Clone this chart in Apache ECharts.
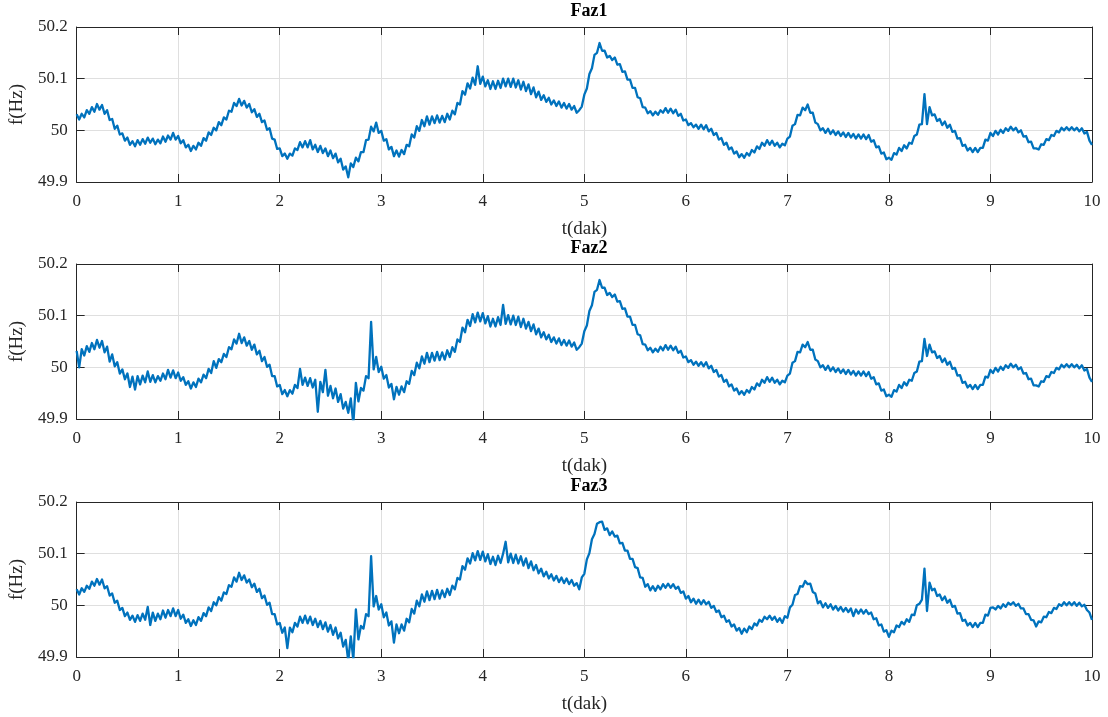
<!DOCTYPE html>
<html>
<head>
<meta charset="utf-8">
<title>Faz frekanslari</title>
<script src="https://cdn.jsdelivr.net/npm/echarts@6/dist/echarts.min.js"></script>
<style>
  html, body { margin: 0; padding: 0; background: #ffffff; }
  #chart { width: 1108px; height: 717px; }
</style>
</head>
<body>
<div id="chart"></div>
<script>
// Measured grid frequency of the three phases, one sample every 0.025 min over 10 min.
const sampleStepMin = 0.025;

const panelTitles = ['Faz1', 'Faz2', 'Faz3'];
const xAxisName = 't(dak)';
const yAxisName = 'f(Hz)';
const xTicks = [0, 1, 2, 3, 4, 5, 6, 7, 8, 9, 10];
const yTicks = [49.9, 50, 50.1, 50.2];

const faz1 = [
  50.031,50.021,50.032,50.025,50.039,50.032,50.045,50.036,50.051,50.04,50.049,50.032,50.039,50.02,50.022,50.003,50.009,49.992,49.994,49.98,
  49.986,49.972,49.979,49.969,49.981,49.972,49.983,49.974,49.986,49.976,49.984,49.973,49.982,49.975,49.988,49.978,49.99,49.982,49.995,49.982,
  49.989,49.975,49.981,49.967,49.972,49.96,49.97,49.963,49.976,49.97,49.985,49.98,49.996,49.991,50.005,50,50.016,50.01,50.025,50.021,
  50.038,50.036,50.053,50.047,50.061,50.048,50.057,50.044,50.051,50.035,50.041,50.026,50.032,50.016,50.019,50.001,50.004,49.984,49.982,49.964,
  49.965,49.95,49.955,49.945,49.955,49.951,49.965,49.962,49.977,49.967,49.979,49.967,49.981,49.963,49.972,49.958,49.97,49.956,49.965,49.95,
  49.961,49.946,49.955,49.938,49.945,49.924,49.93,49.909,49.936,49.929,49.947,49.94,49.958,49.958,49.981,49.982,50.007,49.998,50.015,49.995,
  49.999,49.98,49.983,49.963,49.968,49.95,49.961,49.949,49.962,49.954,49.972,49.969,49.992,49.986,50.008,49.999,50.02,50.008,50.027,50.011,
  50.027,50.014,50.029,50.015,50.028,50.016,50.032,50.021,50.038,50.031,50.053,50.05,50.076,50.069,50.091,50.081,50.102,50.088,50.124,50.09,
  50.104,50.085,50.097,50.08,50.095,50.08,50.096,50.082,50.1,50.085,50.1,50.084,50.1,50.083,50.097,50.079,50.094,50.076,50.089,50.07,
  50.083,50.064,50.075,50.059,50.068,50.055,50.063,50.05,50.058,50.047,50.056,50.044,50.053,50.042,50.051,50.04,50.047,50.034,50.039,50.046,
  50.069,50.081,50.109,50.12,50.146,50.15,50.169,50.154,50.154,50.141,50.144,50.136,50.141,50.127,50.128,50.113,50.114,50.098,50.098,50.082,
  50.082,50.064,50.062,50.045,50.044,50.033,50.037,50.029,50.036,50.03,50.039,50.034,50.043,50.034,50.042,50.033,50.04,50.028,50.032,50.019,
  50.021,50.01,50.014,50.006,50.011,50.003,50.011,50.002,50.01,49.998,50.003,49.991,49.995,49.982,49.985,49.972,49.976,49.963,49.967,49.955,
  49.959,49.948,49.954,49.947,49.956,49.951,49.962,49.957,49.969,49.964,49.976,49.97,49.981,49.972,49.98,49.97,49.976,49.967,49.974,49.971,
  49.984,49.988,50.009,50.012,50.03,50.029,50.044,50.039,50.05,50.034,50.034,50.015,50.012,50,50.004,49.995,50.003,49.993,50,49.991,
  49.998,49.989,49.996,49.987,49.995,49.986,49.993,49.984,49.992,49.984,49.992,49.983,49.991,49.978,49.981,49.967,49.969,49.955,49.957,49.944,
  49.947,49.943,49.956,49.953,49.966,49.96,49.971,49.965,49.976,49.974,49.989,49.992,50.011,50.012,50.07,50.012,50.045,50.029,50.031,50.018,
  50.022,50.01,50.017,50.005,50.011,49.997,49.999,49.984,49.985,49.97,49.972,49.961,49.966,49.958,49.966,49.958,49.966,49.966,49.982,49.98,
  49.995,49.989,49.999,49.992,50.001,49.995,50.004,49.999,50.007,50,50.005,49.996,50,49.988,49.989,49.977,49.978,49.965,49.965,49.963,
  49.973,49.972,49.983,49.981,49.991,49.989,49.999,49.996,50.005,50,50.006,50,50.006,50,50.005,49.998,50.004,49.994,49.997,49.98,
  49.972
];

const faz2 = [
  50.032,50,50.035,50.023,50.041,50.03,50.047,50.035,50.053,50.038,50.051,50.029,50.04,50.011,50.025,50.002,50.01,49.988,49.996,49.977,
  49.988,49.962,49.982,49.957,49.983,49.967,49.984,49.971,49.992,49.972,49.985,49.971,49.983,49.974,49.988,49.977,49.995,49.98,49.994,49.979,
  49.99,49.974,49.981,49.966,49.973,49.959,49.971,49.962,49.978,49.971,49.986,49.979,49.997,49.989,50.012,49.999,50.016,50.01,50.026,50.02,
  50.039,50.035,50.054,50.046,50.065,50.047,50.058,50.042,50.051,50.034,50.044,50.025,50.032,50.012,50.02,50.001,50.005,49.983,49.983,49.963,
  49.966,49.948,49.956,49.944,49.956,49.949,49.966,49.96,49.997,49.966,49.98,49.964,49.979,49.961,49.976,49.914,49.972,49.952,49.995,49.945,
  49.964,49.94,49.959,49.933,49.948,49.92,49.933,49.912,49.94,49.89,49.97,49.934,49.96,49.955,49.983,49.979,50.088,49.996,50.02,49.991,
  50.001,49.978,49.985,49.961,49.968,49.938,49.962,49.947,49.963,49.952,49.973,49.968,49.993,49.985,50.009,49.998,50.021,50.007,50.028,50.01,
  50.028,50.013,50.03,50.014,50.029,50.015,50.033,50.02,50.039,50.03,50.054,50.049,50.077,50.068,50.092,50.08,50.103,50.087,50.106,50.089,
  50.105,50.085,50.099,50.079,50.094,50.079,50.097,50.082,50.121,50.084,50.101,50.083,50.1,50.082,50.098,50.078,50.094,50.075,50.088,50.07,
  50.083,50.064,50.075,50.058,50.068,50.054,50.063,50.049,50.058,50.046,50.056,50.043,50.053,50.042,50.052,50.04,50.048,50.034,50.039,50.046,
  50.07,50.081,50.109,50.12,50.146,50.15,50.169,50.154,50.154,50.14,50.144,50.136,50.141,50.127,50.128,50.113,50.114,50.098,50.098,50.082,
  50.082,50.064,50.062,50.045,50.044,50.033,50.038,50.029,50.036,50.03,50.04,50.033,50.043,50.034,50.042,50.033,50.04,50.028,50.032,50.019,
  50.021,50.01,50.014,50.005,50.011,50.003,50.01,50.002,50.01,49.998,50.003,49.991,49.995,49.982,49.985,49.972,49.976,49.963,49.967,49.955,
  49.959,49.948,49.954,49.947,49.956,49.951,49.962,49.957,49.969,49.964,49.976,49.97,49.981,49.972,49.98,49.97,49.976,49.967,49.974,49.971,
  49.984,49.988,50.009,50.012,50.03,50.029,50.044,50.039,50.049,50.034,50.034,50.015,50.012,50,50.004,49.995,50.003,49.993,50,49.991,
  49.998,49.989,49.996,49.987,49.995,49.986,49.993,49.984,49.992,49.984,49.992,49.983,49.991,49.978,49.981,49.967,49.969,49.955,49.957,49.944,
  49.947,49.943,49.956,49.953,49.966,49.96,49.971,49.965,49.976,49.974,49.989,49.992,50.011,50.012,50.055,50.022,50.044,50.029,50.031,50.018,
  50.022,50.01,50.017,50.005,50.011,49.997,49.999,49.984,49.985,49.97,49.972,49.961,49.966,49.958,49.966,49.958,49.966,49.966,49.982,49.98,
  49.995,49.989,49.999,49.992,50.001,49.995,50.004,49.999,50.007,50,50.005,49.996,50,49.988,49.989,49.977,49.978,49.965,49.965,49.963,
  49.973,49.972,49.983,49.981,49.991,49.989,49.999,49.996,50.005,50,50.006,50,50.006,50,50.005,49.998,50.004,49.994,49.997,49.98,
  49.972
];

const faz3 = [
  50.031,50.021,50.033,50.026,50.038,50.032,50.046,50.038,50.051,50.04,50.05,50.033,50.037,50.019,50.023,50.005,50.009,49.991,49.995,49.979,
  49.986,49.972,49.98,49.968,49.981,49.97,49.984,49.972,49.997,49.962,49.986,49.97,49.984,49.973,49.99,49.976,49.991,49.979,49.994,49.979,
  49.991,49.974,49.982,49.966,49.973,49.96,49.971,49.962,49.977,49.97,49.985,49.979,49.996,49.989,50.006,50,50.016,50.009,50.025,50.022,
  50.039,50.036,50.054,50.046,50.063,50.049,50.058,50.044,50.05,50.035,50.042,50.026,50.032,50.014,50.019,50.001,50.005,49.983,49.983,49.963,
  49.966,49.947,49.957,49.917,49.957,49.948,49.966,49.959,49.978,49.966,49.98,49.965,49.978,49.962,49.974,49.958,49.97,49.954,49.967,49.949,
  49.962,49.943,49.957,49.936,49.947,49.92,49.933,49.892,49.94,49.895,49.992,49.934,49.96,49.955,49.983,49.979,50.095,49.998,50.018,49.992,
  50.002,49.977,49.986,49.961,49.969,49.928,49.963,49.946,49.963,49.951,49.974,49.967,49.993,49.984,50.009,49.998,50.021,50.007,50.027,50.01,
  50.028,50.012,50.03,50.013,50.029,50.016,50.032,50.02,50.038,50.031,50.053,50.05,50.076,50.069,50.091,50.081,50.101,50.087,50.105,50.088,
  50.104,50.085,50.099,50.08,50.094,50.078,50.096,50.082,50.1,50.123,50.083,50.1,50.082,50.098,50.081,50.095,50.077,50.091,50.072,50.085,
  50.068,50.078,50.062,50.071,50.056,50.065,50.052,50.06,50.048,50.057,50.045,50.054,50.043,50.052,50.041,50.049,50.038,50.043,50.031,50.054,
  50.061,50.089,50.101,50.128,50.138,50.158,50.161,50.162,50.146,50.149,50.136,50.143,50.133,50.135,50.12,50.121,50.106,50.106,50.09,50.09,
  50.074,50.072,50.054,50.053,50.036,50.041,50.029,50.037,50.028,50.038,50.031,50.041,50.034,50.042,50.034,50.041,50.032,50.036,50.024,50.027,
  50.013,50.018,50.006,50.013,50.003,50.011,50.002,50.01,50.002,50.007,49.995,49.999,49.987,49.99,49.977,49.98,49.968,49.971,49.959,49.963,
  49.951,49.956,49.945,49.955,49.948,49.959,49.954,49.965,49.961,49.972,49.968,49.978,49.973,49.98,49.972,49.978,49.968,49.975,49.966,49.979,
  49.976,49.996,50.001,50.02,50.022,50.037,50.036,50.047,50.041,50.042,50.026,50.023,50.004,50.008,49.996,50.004,49.995,50.002,49.992,49.999,
  49.99,49.997,49.988,49.995,49.987,49.994,49.979,49.992,49.984,49.992,49.984,49.991,49.983,49.986,49.973,49.975,49.961,49.963,49.949,49.952,
  49.939,49.951,49.948,49.961,49.958,49.968,49.963,49.973,49.968,49.982,49.981,50,50.003,50.011,50.071,49.989,50.044,50.029,50.032,50.018,
  50.021,50.01,50.017,50.005,50.011,49.997,49.999,49.984,49.985,49.97,49.972,49.961,49.966,49.958,49.966,49.958,49.966,49.966,49.982,49.98,
  49.995,49.996,49.992,49.999,49.994,50.002,49.997,50.005,50.001,50.006,49.999,50.003,49.994,49.994,49.983,49.983,49.972,49.971,49.959,49.969,
  49.967,49.978,49.977,49.987,49.985,49.995,49.993,50.002,49.999,50.006,50,50.006,50,50.006,49.999,50.005,49.998,50.001,49.991,49.986,
  49.972
];

const phaseSeries = [faz1, faz2, faz3];

// Panel geometry (pixels)
const plotLeft = 76;
const plotWidth = 1016;
const plotHeight = 155;
const plotTops = [27, 264, 502];

const axisColor = '#262626';
const gridColor = '#dfdfdf';
const lineColor = '#0072BD';
const serif = '"Liberation Serif", "Times New Roman", serif';

const chart = echarts.init(document.getElementById('chart'), null, { renderer: 'canvas' });

const grids = [], xAxes = [], yAxes = [], series = [], titles = [];

phaseSeries.forEach((values, p) => {
  grids.push({ left: plotLeft, top: plotTops[p], width: plotWidth, height: plotHeight, containLabel: false });

  titles.push({
    text: panelTitles[p],
    left: plotLeft + plotWidth / 2,
    top: plotTops[p] - 30,
    textAlign: 'center',
    textStyle: { fontFamily: serif, fontWeight: 'bold', fontSize: 18, color: '#000000' }
  });

  const common = {
    gridIndex: p,
    type: 'value',
    axisLine: { show: true, onZero: false, lineStyle: { color: axisColor, width: 1 } },
    axisTick: { show: true, inside: true, length: 8, lineStyle: { color: axisColor, width: 1 } }
  };

  // bottom x axis with labels and grid lines
  xAxes.push(Object.assign({}, common, {
    position: 'bottom',
    min: xTicks[0], max: xTicks[xTicks.length - 1], interval: 1,
    axisLabel: { show: true, margin: 11, fontFamily: serif, fontSize: 17, color: axisColor,
      customValues: xTicks },
    splitLine: { show: true, lineStyle: { color: gridColor, width: 1 } },
    name: xAxisName, nameLocation: 'middle', nameGap: 38,
    nameTextStyle: { fontFamily: serif, fontSize: 19, color: axisColor }
  }));
  // top x axis: box edge with inward ticks
  xAxes.push(Object.assign({}, common, {
    position: 'top',
    min: xTicks[0], max: xTicks[xTicks.length - 1], interval: 1,
    axisLabel: { show: false },
    splitLine: { show: false }
  }));
  // left y axis with labels and grid lines
  yAxes.push(Object.assign({}, common, {
    position: 'left',
    min: yTicks[0], max: yTicks[yTicks.length - 1], interval: 0.1,
    axisLabel: { show: true, margin: 9, fontFamily: serif, fontSize: 17, color: axisColor,
      formatter: v => String(Math.round(v * 10) / 10) },
    splitLine: { show: true, lineStyle: { color: gridColor, width: 1 } },
    name: yAxisName, nameLocation: 'middle', nameGap: 45, nameRotate: 90,
    nameTextStyle: { fontFamily: serif, fontSize: 19, color: axisColor }
  }));
  // right y axis: box edge with inward ticks
  yAxes.push(Object.assign({}, common, {
    position: 'right',
    min: yTicks[0], max: yTicks[yTicks.length - 1], interval: 0.1,
    axisLabel: { show: false },
    splitLine: { show: false }
  }));

  series.push({
    name: panelTitles[p],
    type: 'line',
    xAxisIndex: 2 * p,
    yAxisIndex: 2 * p,
    data: values.map((v, i) => [i * sampleStepMin, v]),
    showSymbol: false,
    symbol: 'none',
    clip: true,
    lineStyle: { color: lineColor, width: 2.3, join: 'round' },
    z: 3
  });
});

chart.setOption({
  backgroundColor: '#ffffff',
  animation: false,
  title: titles,
  grid: grids,
  xAxis: xAxes,
  yAxis: yAxes,
  series: series
});
</script>
</body>
</html>
